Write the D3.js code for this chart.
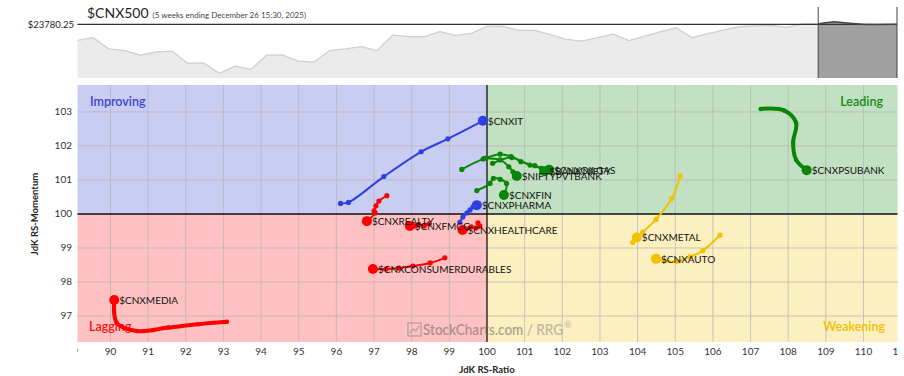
<!DOCTYPE html>
<html>
<head>
<meta charset="utf-8">
<script src="https://cdn.jsdelivr.net/npm/d3@7"></script>
<style>
  body { margin: 0; background: #fff; }
  svg { font-family: Lato, "Open Sans", sans-serif; display: block; }
</style>
</head>
<body>
<div id="rrg"></div>
<script>
// weekly closes of the benchmark, the last 5 weeks are the tail period
const benchPrices = [23369, 23437, 23147, 23106, 22986, 23070, 23088, 22775, 22790, 22520,
  22706, 22622, 22986, 22994, 22833, 22808, 23106, 23147, 23208, 23106,
  23504, 23463, 23463, 23590, 23496, 23547, 23733, 23725, 23624, 23624,
  23514, 23394, 23351, 23437, 23529, 23361, 23478, 23590, 23692, 23437,
  23539, 23631, 23718, 23743, 23751, 23700, 23794, 23794,
  23845, 23810, 23776, 23776, 23780.25];
const tailWeeks = 5;

const symbols = ["$CNXIT", "$CNXOILGAS", "$BANKNIFTY", "$NIFTYPVTBANK", "$CNXFIN", "$CNXPHARMA",
  "$CNXREALTY", "$CNXFMCG", "$CNXHEALTHCARE", "$CNXCONSUMERDURABLES", "$CNXMEDIA",
  "$CNXPSUBANK", "$CNXMETAL", "$CNXAUTO"];

// RS-Ratio tails (oldest -> latest)
const rsRatio = [
  [96.11, 96.32, 97.26, 98.25, 98.96, 99.89],
  [99.33, 99.90, 100.35, 100.64, 101.14, 101.65],
  [100.15, 100.66, 100.90, 101.27, 101.45, 101.52],
  [99.95, 100.35, 100.58, 100.69, 100.74, 100.79],
  [99.73, 100.08, 100.17, 100.35, 100.52, 100.45],
  [99.28, 99.36, 99.47, 99.55, 99.63, 99.73],
  [97.34, 97.13, 97.05, 97.00, 97.03, 96.81],
  [98.46, 98.33, 98.19, 98.09, 98.01, 97.95],
  [99.76, 99.81, 99.71, 99.58, 99.44, 99.35],
  [98.88, 98.49, 98.03, 97.66, 97.32, 96.97],
  [93.09, 92.33, 91.54, 90.70, 90.17, 90.10],
  [107.27, 107.90, 108.21, 108.13, 108.21, 108.49],
  [105.13, 104.91, 104.49, 104.14, 103.87, 103.98],
  [106.19, 105.73, 105.39, 105.05, 104.73, 104.49]
];
// RS-Momentum tails (oldest -> latest)
const rsMomentum = [
  [100.31, 100.34, 101.10, 101.83, 102.21, 102.74],
  [101.31, 101.62, 101.76, 101.69, 101.44, 101.30],
  [101.49, 101.66, 101.54, 101.42, 101.34, 101.26],
  [101.64, 101.59, 101.39, 101.24, 101.18, 101.12],
  [100.69, 100.90, 101.05, 101.02, 100.90, 100.56],
  [99.76, 99.91, 100.03, 100.12, 100.21, 100.26],
  [100.54, 100.38, 100.24, 100.09, 100.03, 99.79],
  [99.71, 99.65, 99.69, 99.65, 99.68, 99.65],
  [99.74, 99.65, 99.59, 99.62, 99.56, 99.53],
  [98.71, 98.56, 98.47, 98.41, 98.38, 98.38],
  [96.83, 96.76, 96.66, 96.56, 96.79, 97.47],
  [103.09, 103.04, 102.68, 102.10, 101.59, 101.29],
  [101.12, 100.46, 99.84, 99.47, 99.16, 99.31],
  [99.38, 98.92, 98.74, 98.60, 98.62, 98.68]
];
const bold = ["$CNXMEDIA", "$CNXPSUBANK"];

const xTicks = d3.range(89, 112);
const yTicks = [97, 98, 99, 100, 101, 102, 103];

const W = 904, H = 376;
const plot = {left: 77.5, right: 897.5, top: 85, bottom: 342};

const svg = d3.select("#rrg").append("svg").attr("width", W).attr("height", H);
svg.append("rect").attr("width", W).attr("height", H).attr("fill", "#fff");

// ---------- benchmark strip ----------
const px = d3.scaleLinear().domain([0, benchPrices.length - 1]).range([77.5, 897]);
const py = d3.scaleLinear().domain([22400, 23820]).range([78, 22.8]);
const last = benchPrices.length - 1;
const split = last - tailWeeks;
const bench = benchPrices.map((v, i) => ({i, v}));

const area = d3.area().x(d => px(d.i)).y0(78).y1(d => py(d.v));
const line = d3.line().x(d => px(d.i)).y(d => py(d.v));

svg.append("path").datum(bench.slice(0, split + 1)).attr("d", area).attr("fill", "#ebebeb");
svg.append("path").datum(bench.slice(0, split + 1)).attr("d", line)
  .attr("fill", "none").attr("stroke", "#cfcfcf").attr("stroke-width", 1.3);
svg.append("path").datum(bench.slice(split)).attr("d", area).attr("fill", "#a0a0a0");
svg.append("line").attr("x1", 77.5).attr("x2", 897).attr("y1", py(benchPrices[last])).attr("y2", py(benchPrices[last]))
  .attr("stroke", "#333").attr("stroke-width", 1.2);
svg.append("path").datum(bench.slice(split)).attr("d", line)
  .attr("fill", "none").attr("stroke", "#444").attr("stroke-width", 1.5);
[px(split), px(last)].forEach(x => {
  svg.append("line").attr("x1", x).attr("x2", x).attr("y1", 7).attr("y2", 78)
    .attr("stroke", "#444").attr("stroke-width", 1);
});
svg.append("text").attr("x", 74).attr("y", py(benchPrices[last]) + 3.5).attr("text-anchor", "end")
  .attr("font-size", 9.5).attr("fill", "#222").text("$" + d3.format(".2f")(benchPrices[last]));
const title = svg.append("text").attr("x", 87).attr("y", 18).attr("fill", "#222");
title.append("tspan").attr("font-size", 14).text("$CNX500");
title.append("tspan").attr("font-size", 8).attr("dx", 4).attr("fill", "#444")
  .text("(5 weeks ending December 26 15:30, 2025)");

// ---------- RRG ----------
const x = d3.scaleLinear().domain([89.124, 110.903]).range([plot.left, plot.right]);
const y = d3.scaleLinear().domain([96.235, 103.794]).range([plot.bottom, plot.top]);

const quads = [
  {x0: x.domain()[0], x1: 100, y0: 100, y1: y.domain()[1], fill: "#c9cdf2"},
  {x0: 100, x1: x.domain()[1], y0: 100, y1: y.domain()[1], fill: "#c2e0c2"},
  {x0: x.domain()[0], x1: 100, y0: y.domain()[0], y1: 100, fill: "#ffc1c1"},
  {x0: 100, x1: x.domain()[1], y0: y.domain()[0], y1: 100, fill: "#fcf0c0"}
];
svg.append("g").selectAll("rect").data(quads).join("rect")
  .attr("x", d => x(d.x0)).attr("y", d => y(d.y1))
  .attr("width", d => x(d.x1) - x(d.x0)).attr("height", d => y(d.y0) - y(d.y1))
  .attr("fill", d => d.fill);

svg.append("defs").append("clipPath").attr("id", "clip")
  .append("rect").attr("x", plot.left).attr("y", plot.top)
  .attr("width", plot.right - plot.left).attr("height", plot.bottom - plot.top);
svg.append("defs").append("clipPath").attr("id", "clipx")
  .append("rect").attr("x", plot.left).attr("y", plot.bottom)
  .attr("width", plot.right - plot.left).attr("height", 20);

const grid = svg.append("g").attr("stroke", "#b4b4b4").attr("stroke-opacity", 0.7).attr("stroke-width", 1);
grid.selectAll(".gx").data(xTicks.filter(t => t !== 100 && x(t) > plot.left && x(t) < plot.right)).join("line")
  .attr("x1", d => x(d)).attr("x2", d => x(d)).attr("y1", plot.top).attr("y2", plot.bottom);
grid.selectAll(".gy").data(yTicks.filter(t => t !== 100)).join("line")
  .attr("y1", d => y(d)).attr("y2", d => y(d)).attr("x1", plot.left).attr("x2", plot.right);

svg.append("line").attr("x1", x(100)).attr("x2", x(100)).attr("y1", plot.top).attr("y2", plot.bottom)
  .attr("stroke", "#111").attr("stroke-width", 1.3);
svg.append("line").attr("x1", plot.left).attr("x2", plot.right).attr("y1", y(100)).attr("y2", y(100))
  .attr("stroke", "#111").attr("stroke-width", 1.3);

// quadrant names
const qlab = [
  {t: "Improving", x: 90, y: 106, a: "start", c: "#3a44d0"},
  {t: "Leading", x: 883, y: 106, a: "end", c: "#138a13"},
  {t: "Lagging", x: 89, y: 331, a: "start", c: "#ff1111"},
  {t: "Weakening", x: 885, y: 331, a: "end", c: "#f3bf00"}
];
svg.append("g").selectAll("text").data(qlab).join("text")
  .attr("x", d => d.x).attr("y", d => d.y).attr("text-anchor", d => d.a)
  .attr("fill", d => d.c).attr("font-size", 12.5).attr("font-weight", 600).text(d => d.t);

// watermark
const wm = svg.append("g").attr("opacity", 0.55);
wm.append("rect").attr("x", 408).attr("y", 323).attr("width", 13).attr("height", 13)
  .attr("fill", "none").attr("stroke", "#777").attr("stroke-width", 1.2);
wm.append("path").attr("d", "M410,333 L413,329 L416,331 L419,326").attr("fill", "none").attr("stroke", "#777").attr("stroke-width", 1.2);
const wt = wm.append("text").attr("x", 423).attr("y", 335).attr("font-size", 14.5).attr("font-weight", 600)
  .attr("textLength", 140).attr("lengthAdjust", "spacingAndGlyphs");
wt.append("tspan").attr("fill", "#666").text("StockCharts.com");
wt.append("tspan").attr("fill", "#8a8a8a").text(" / RRG");
wm.append("text").attr("x", 564).attr("y", 328).attr("font-size", 9).attr("fill", "#8a8a8a").text("®");

// axes labels
svg.append("g").attr("clip-path", "url(#clipx)").selectAll("text").data(xTicks).join("text")
  .attr("x", d => x(d)).attr("y", 355).attr("text-anchor", "middle")
  .attr("font-size", 10).attr("fill", "#333").text(d => d);
svg.append("g").selectAll("text").data(yTicks).join("text")
  .attr("x", 72).attr("y", d => y(d) + 3.5).attr("text-anchor", "end")
  .attr("font-size", 10).attr("fill", "#333").text(d => d);
svg.append("text").attr("x", x(100)).attr("y", 373).attr("text-anchor", "middle")
  .attr("font-size", 9.5).attr("font-weight", 700).attr("fill", "#222").text("JdK RS-Ratio");
svg.append("text").attr("transform", `translate(38,${y(100)}) rotate(-90)`).attr("text-anchor", "middle")
  .attr("font-size", 9.5).attr("font-weight", 700).attr("fill", "#222").text("JdK RS-Momentum");

// tails
const colorOf = (rx, ry) => rx >= 100 ? (ry >= 100 ? "#078607" : "#f2c200") : (ry >= 100 ? "#3040e0" : "#ff0000");
const tailLine = d3.line().x(d => x(d[0])).y(d => y(d[1])).curve(d3.curveCatmullRom);

const tails = symbols.map((s, k) => {
  const pts = rsRatio[k].map((v, j) => [v, rsMomentum[k][j]]);
  const head = pts[pts.length - 1];
  return {s, pts, head, color: colorOf(head[0], head[1]), thick: bold.includes(s)};
});

const tg = svg.append("g").attr("clip-path", "url(#clip)");
tails.forEach(t => {
  const g = tg.append("g");
  g.append("path").attr("d", tailLine(t.pts)).attr("fill", "none")
    .attr("stroke", t.color).attr("stroke-width", t.thick ? 4 : 2).attr("stroke-linecap", "round");
  g.selectAll("circle").data(t.pts.slice(0, -1)).join("circle")
    .attr("cx", d => x(d[0])).attr("cy", d => y(d[1])).attr("r", t.thick ? 2.2 : 2.6).attr("fill", t.color);
  g.append("circle").attr("cx", x(t.head[0])).attr("cy", y(t.head[1])).attr("r", 5).attr("fill", t.color);
});
tails.forEach(t => {
  tg.append("text").attr("x", x(t.head[0]) + 5).attr("y", y(t.head[1]) + 4)
    .attr("font-size", 10).attr("fill", "#111").text(t.s);
});
</script>
</body>
</html>
